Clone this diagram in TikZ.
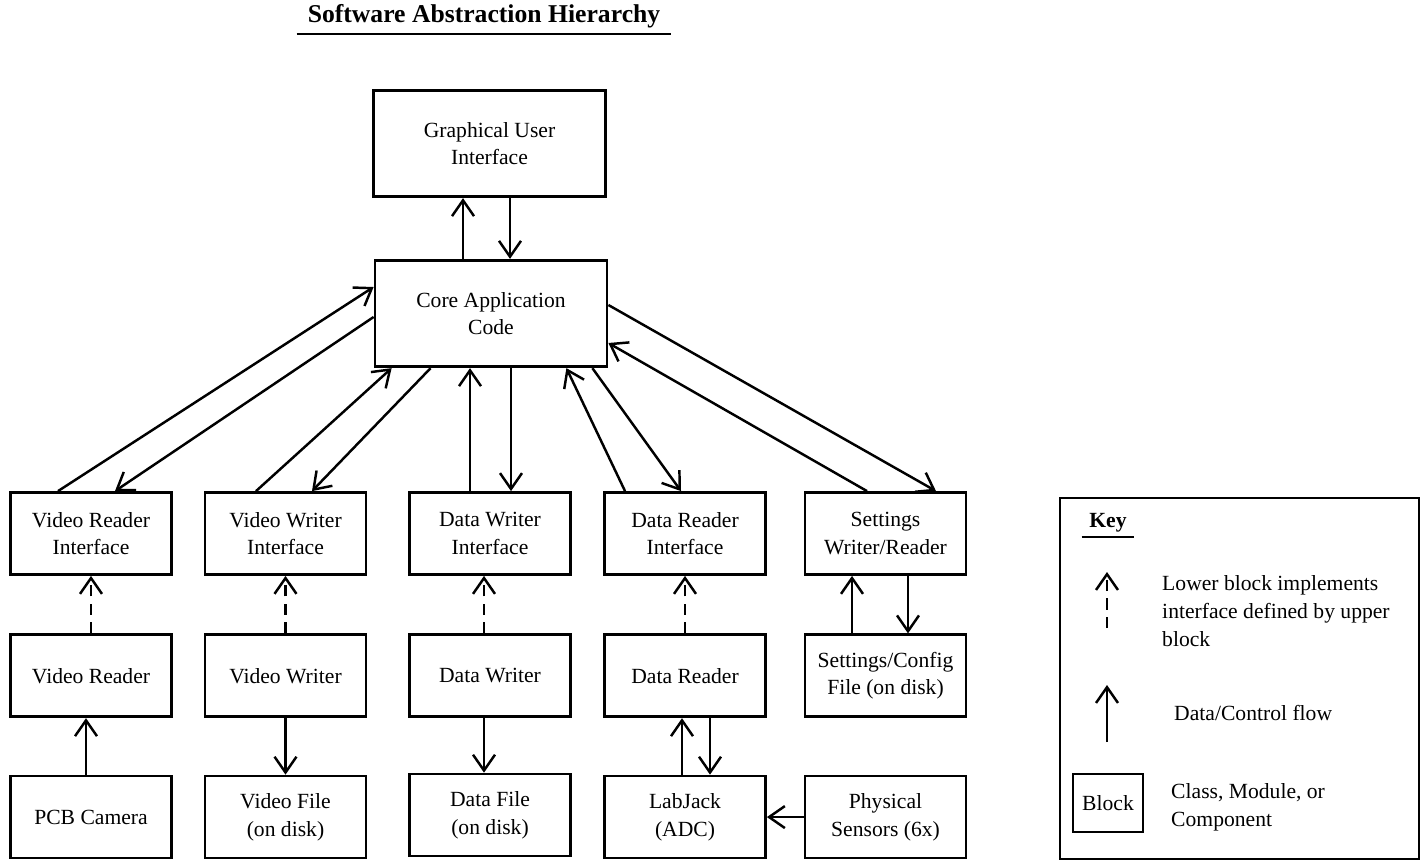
\documentclass[tikz,border=0pt]{standalone}
\usepackage{fontspec}
\setmainfont{Liberation Serif}
\usetikzlibrary{arrows.meta,positioning}

\newcommand{\boxfont}{\fontsize{12.3}{15.8}\selectfont}
\newcommand{\headfont}{\fontsize{14.6}{17}\selectfont\bfseries}

\begin{document}
\begin{tikzpicture}[x=0.02cm,y=-0.02cm,>={Straight Barb[length=9pt,width=12.5pt]},line width=1.4pt,
    node distance=1.15cm,
    block/.style={draw,line width=1.6pt,minimum width=3.22cm,minimum height=1.64cm,inner sep=2pt,align=center,font=\boxfont},
    bigblock/.style={block,minimum width=4.64cm,minimum height=2.13cm},
    impl/.style={->,dash pattern=on 6.5pt off 4pt},
    keytext/.style={anchor=west,align=left,inner sep=0pt,font=\boxfont}]
  \useasboundingbox (0,0) rectangle (1426,868);

  % title
  \node (title) [anchor=base,font=\headfont,inner xsep=0.2cm,inner ysep=0.09cm] at (484,23) {Software Abstraction Hierarchy};
  \draw[line width=1pt] (title.south west) -- (title.south east);

  % top blocks
  \node (GUI) [bigblock] at (489.5,143.5) {Graphical User\\Interface};
  \node (Core) [bigblock] at (491,313.5) {Core Application\\Code};

  % interfaces
  \node (VRI) [block] at (91,533.5) {Video Reader\\Interface};
  \node (VWI) [block] at (285.5,533.5) {Video Writer\\Interface};
  \node (DWI) [block] at (490,533.5) {Data Writer\\Interface};
  \node (DRI) [block] at (685,533.5) {Data Reader\\Interface};
  \node (SWR) [block] at (885.5,533.5) {Settings\\Writer/Reader};

  % implementations
  \node (VR) [block,below=of VRI] {Video Reader};
  \node (VW) [block,below=of VWI] {Video Writer};
  \node (DW) [block,below=of DWI] {Data Writer};
  \node (DR) [block,below=of DRI] {Data Reader};
  \node (SCF) [block,below=of SWR] {Settings/Config\\File (on disk)};

  % devices and files
  \node (PCB) [block,below=1.13cm of VR] {PCB Camera};
  \node (VF) [block,below=1.13cm of VW] {Video File\\(on disk)};
  \node (DF) [block,below=1.09cm of DW] {Data File\\(on disk)};
  \node (LJ) [block,below=1.13cm of DR] {LabJack\\(ADC)};
  \node (PS) [block,below=1.13cm of SCF] {Physical\\Sensors (6x)};

  % core <-> gui and interfaces
  \path[->]
    ([xshift=-0.56cm]Core.north) edge ([xshift=-0.56cm]Core.north |- GUI.south)
    ([xshift=0.41cm]GUI.south) edge ([xshift=0.41cm]GUI.south |- Core.north)
    ([xshift=-0.66cm]VRI.north) edge ([yshift=0.53cm]Core.west)
    ([yshift=-0.07cm]Core.west) edge ([xshift=0.48cm]VRI.north)
    ([xshift=-0.59cm]VWI.north) edge ([xshift=0.36cm]Core.south west)
    ([xshift=1.14cm]Core.south west) edge ([xshift=0.53cm]VWI.north)
    ([xshift=-0.4cm]DWI.north) edge ([xshift=-0.4cm]DWI.north |- Core.south)
    ([xshift=0.42cm]DWI.north |- Core.south) edge ([xshift=0.42cm]DWI.north)
    ([xshift=-1.2cm]DRI.north) edge ([xshift=-0.84cm]Core.south east)
    ([xshift=-0.32cm]Core.south east) edge ([xshift=-0.08cm]DRI.north)
    ([xshift=-0.37cm]SWR.north) edge ([yshift=-0.59cm]Core.east)
    ([yshift=0.17cm]Core.east) edge ([xshift=1.01cm]SWR.north);

  % implements
  \path[impl]
    (VR.north) edge (VRI.south)
    (VW.north) edge (VWI.south)
    ([xshift=-0.12cm]DW.north) edge ([xshift=-0.12cm]DWI.south)
    (DR.north) edge (DRI.south);

  % lower flows
  \path[->]
    ([xshift=-0.67cm]SCF.north) edge ([xshift=-0.67cm]SWR.south)
    ([xshift=0.45cm]SWR.south) edge ([xshift=0.45cm]SCF.north)
    ([xshift=-0.1cm]PCB.north) edge ([xshift=-0.1cm]VR.south)
    (VW.south) edge (VF.north)
    ([xshift=-0.12cm]DW.south) edge ([xshift=-0.12cm]DF.north)
    ([xshift=-0.06cm]LJ.north) edge ([xshift=-0.06cm]DR.south)
    ([xshift=0.5cm]DR.south) edge ([xshift=0.5cm]LJ.north)
    (PS.west) edge (LJ.east);

  % key
  \node (KeyBox) [draw,line width=1.6pt,minimum width=7.18cm,minimum height=7.22cm] at (1239.5,678.5) {};
  \node (KeyLbl) [anchor=base,font=\boxfont\bfseries,inner xsep=0.13cm,inner ysep=0.08cm] at (1108,527) {Key};
  \draw[line width=1pt] (KeyLbl.south west) -- (KeyLbl.south east);
  \coordinate (ImplFrom) at (1107,628);
  \coordinate (ImplTo) at (1107,572);
  \draw[impl] (ImplFrom) -- (ImplTo);
  \node (ImplTxt) [keytext] at (1161,611) {Lower block implements\\interface defined by upper\\block};
  \coordinate (FlowFrom) at (1107,742);
  \coordinate (FlowTo) at (1107,685);
  \draw[->] (FlowFrom) -- (FlowTo);
  \node (FlowTxt) [keytext] at (1173,713) {Data/Control flow};
  \node (BlockEx) [draw,line width=1.6pt,minimum width=1.4cm,minimum height=1.16cm,inner sep=2pt,font=\boxfont] at (1108,803) {Block};
  \node (BlockTxt) [keytext] at (1170,807) {Class, Module, or\\Component};
\end{tikzpicture}
\end{document}
